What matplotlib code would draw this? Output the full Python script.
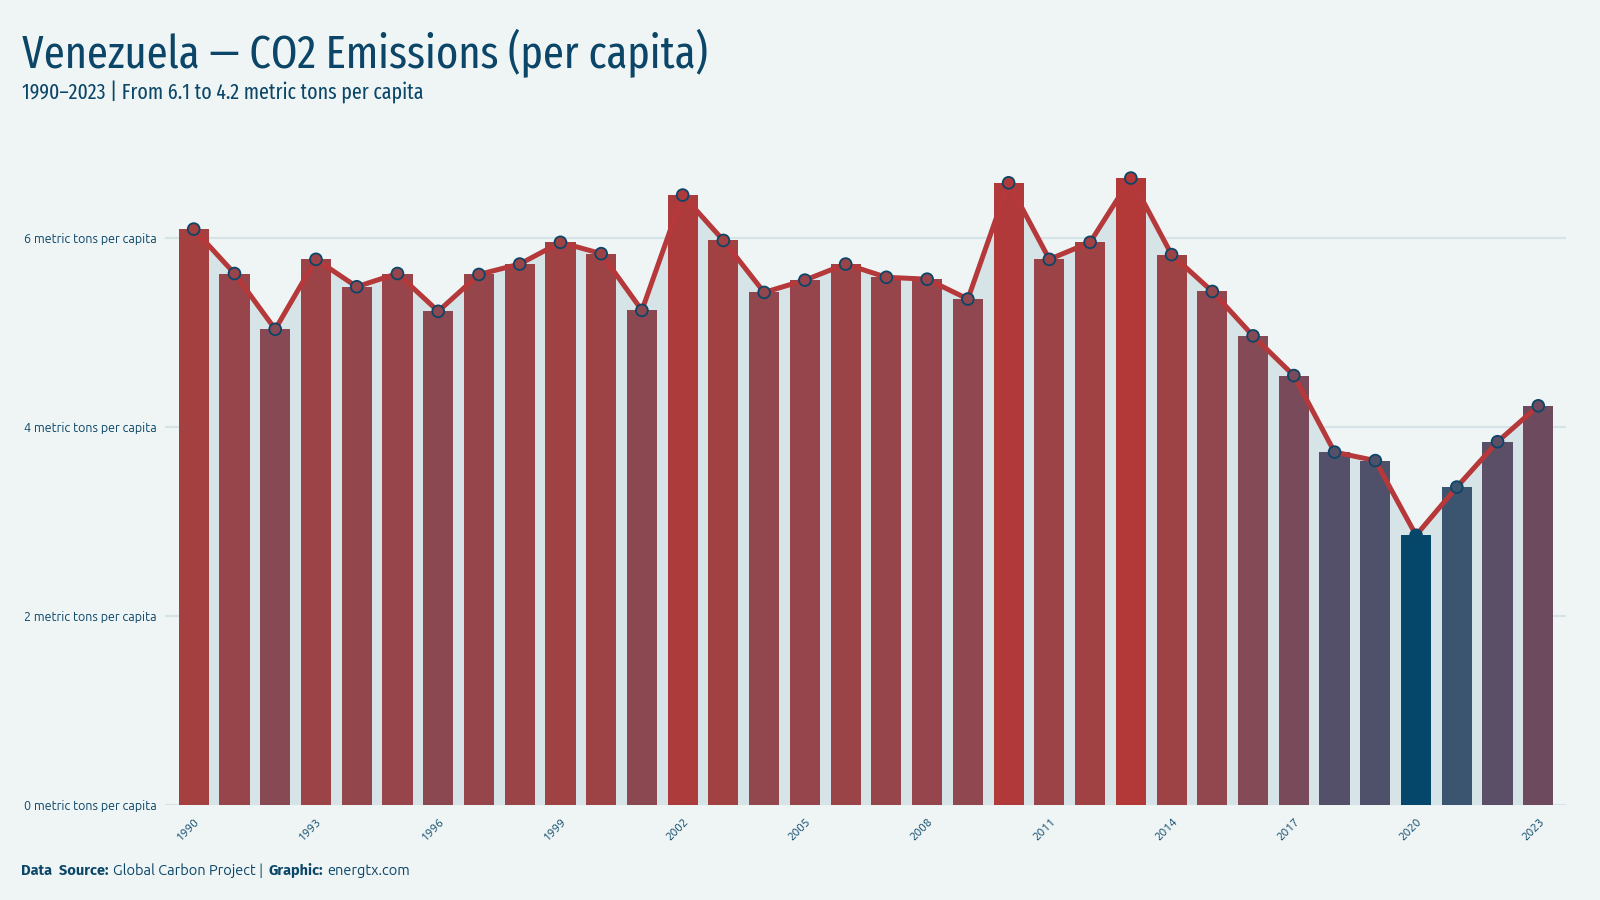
import numpy as np
import matplotlib.pyplot as plt
from matplotlib.colors import LinearSegmentedColormap, Normalize

# Venezuela CO2 emissions per capita, metric tons
years = list(range(1990, 2024))
values = [6.09, 5.62, 5.03, 5.77, 5.48, 5.62, 5.22, 5.61, 5.72, 5.95,
          5.83, 5.23, 6.45, 5.97, 5.42, 5.55, 5.72, 5.58, 5.56, 5.35,
          6.58, 5.77, 5.95, 6.63, 5.82, 5.43, 4.96, 4.54, 3.73, 3.64,
          2.85, 3.36, 3.84, 4.22]
ytick_vals = [0, 2, 4, 6]
ytick_labels = [f"{v} metric tons per capita" for v in ytick_vals]

BG = "#eff5f5"
INK = "#0b4668"
AREA = "#d6e3e7"
LINE = "#b5383a"

COND = ['Ubuntu Condensed', 'Fira Sans Extra Condensed', 'Roboto Condensed', 'DejaVu Sans']
REG = ['Ubuntu', 'Noto Sans', 'DejaVu Sans']
BOLD = ['Fira Sans', 'DejaVu Sans']
plt.rcParams['font.family'] = REG

cmap = LinearSegmentedColormap.from_list("co2", [
    (0.00, "#04476a"), (0.14, "#3e5570"), (0.23, "#54506a"),
    (0.36, "#6e4a5e"), (0.58, "#874a55"), (0.86, "#a44040"),
    (1.00, "#b33838")])
norm = Normalize(min(values), max(values))
colors = [cmap(norm(v)) for v in values]

fig = plt.figure(figsize=(16, 9), dpi=100, facecolor=BG)
ax = fig.add_axes([0.103, 0.106, 0.876, 0.735])
ax.set_facecolor(BG)

x = np.arange(len(years))
ax.fill_between(x, values, 0, color=AREA, lw=0, zorder=1)
ax.bar(x, values, width=0.74, color=colors, zorder=2)
ax.plot(x, values, color=LINE, lw=3.6, zorder=3, solid_capstyle='round')
ax.scatter(x, values, s=72, c=colors, edgecolors=INK, linewidths=1.3, zorder=4)

ax.set_xlim(-0.71, len(years) - 1 + 0.69)
ax.set_ylim(0, 7.0)
ax.set_yticks(ytick_vals)
ax.set_yticklabels(ytick_labels)
ax.yaxis.grid(True, color=AREA, lw=1.6, zorder=0)
ax.set_axisbelow(True)
ax.set_xticks(x[::3])
ax.set_xticklabels([str(y) for y in years[::3]], rotation=45, ha='right',
                   rotation_mode='anchor')
ax.tick_params(axis='y', length=0, pad=6, labelsize=9, labelcolor=INK)
ax.tick_params(axis='x', length=0, pad=8, labelsize=8.5, labelcolor=INK)
for s in ax.spines.values():
    s.set_visible(False)

fig.canvas.draw()
r = fig.canvas.get_renderer()

def fit_text(y, s, size, target_px):
    t = fig.text(0.014, y, s, fontsize=size, color=INK, ha='left', va='baseline', family=COND)
    w = t.get_window_extent(r).width
    t.set_fontsize(size * target_px / w)
    return t

fit_text(0.924, "Venezuela \u2014 CO2 Emissions (per capita)", 36, 687)
fit_text(0.890, "1990\u20132023 | From 6.1 to 4.2 metric tons per capita", 15, 401)

# footer with bold labels
FY = 0.028
t1 = fig.text(0.013, FY, "Data  Source:", fontsize=10.5, fontweight='bold',
              color=INK, ha='left', va='baseline', family=BOLD)
def after(t, s, bold=False):
    bb = t.get_window_extent(r)
    xf = bb.x1 / fig.bbox.width + 0.003
    return fig.text(xf, FY, s, fontsize=10.5, fontweight='bold' if bold else 'normal',
                    color=INK, ha='left', va='baseline', family=BOLD if bold else REG)
t2 = after(t1, "Global Carbon Project |")
t3 = after(t2, "Graphic:", bold=True)
t4 = after(t3, "energtx.com")

fig.savefig("out.png", dpi=100, facecolor=BG)
